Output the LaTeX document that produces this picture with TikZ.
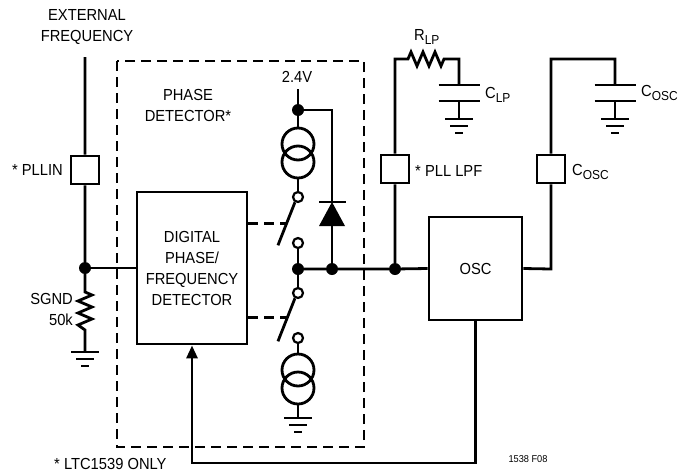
\documentclass[tikz,border=0pt]{standalone}
\usepackage{fontspec}
\setmainfont{Liberation Sans}[FakeStretch=0.92]
\usetikzlibrary{arrows.meta}
\newcommand{\lbl}{\fontsize{16}{21}\selectfont}
\newcommand{\subs}[1]{\raisebox{-0.5ex}{\fontsize{13}{13}\selectfont #1}}
\tikzset{
  wire/.style={line width=2.8pt},
  ctrl/.style={line width=2.8pt,dash pattern=on 10pt off 6pt},
  blk/.style={draw,line width=2.8pt,fill=white,inner sep=0pt,font=\lbl,align=center},
  pin/.style={blk,minimum width=28pt,minimum height=28pt},
  dot/.style={circle,fill,inner sep=0pt,minimum size=12pt},
  term/.style={circle,draw,line width=2.2pt,fill=white,inner sep=0pt,minimum size=10pt},
  txt/.style={font=\lbl,inner sep=0pt,align=center},
  ground/.pic={\draw[wire] (-14,0) -- (14,0) (-9,7) -- (9,7) (-4,14) -- (4,14);},
  isrc/.pic={\draw[wire] (0,-9) circle (16) (0,9) circle (16);
    \coordinate (-top) at (0,-25); \coordinate (-bot) at (0,25);},
  cap/.pic={\draw[wire] (-20.5,0) -- (20.5,0) (-20.5,16) -- (20.5,16);
    \coordinate (-top) at (0,0); \coordinate (-bot) at (0,16);}
}
\begin{document}
\begin{tikzpicture}[x=1pt,y=-1pt,line cap=butt,line join=miter]
  \useasboundingbox (0,0) rectangle (679,474);
  % input side
  \node[txt] (ext) at (87,27) {EXTERNAL\\FREQUENCY};
  \coordinate (extin) at (85,57);
  \node[pin] (pllin) at (85,170) {};
  \node[txt,anchor=east] at (63,170) {* PLLIN};
  \node[dot] (jin) at (85,268) {};
  \coordinate (rs1) at (85,292);
  \coordinate (rs2) at (85,330);
  \pic (g1) at (85,352) {ground};
  \node[txt,anchor=east,align=right] at (73,309) {SGND\\50k};
  \draw[wire] (extin) -- (pllin) -- (jin) -- (rs1)
    -- ++(7,3) -- ++(-14,6) -- ++(14,6) -- ++(-14,6) -- ++(14,6) -- ++(-14,6) -- (rs2)
    -- (85,352);

  % phase detector
  \draw[ctrl] (117,61) rectangle (364,447);
  \node[txt] at (188,105) {PHASE\\DETECTOR*};
  \node[blk,minimum width=110pt,minimum height=152pt] (pfd) at (192,268)
    {DIGITAL\\PHASE/\\FREQUENCY\\DETECTOR};
  \draw[wire] (jin) -- (jin -| pfd.west);

  % charge pump
  \node[txt] (vref) at (297,77) {2.4V};
  \coordinate (vtop) at (298,89);
  \node[dot] (jtop) at (298,110) {};
  \pic (cs1) at (298,153) {isrc};
  \node[term] (s1a) at (298,197) {};
  \node[term] (s1b) at (298,243) {};
  \node[dot] (jsw) at (298,269) {};
  \node[term] (s2a) at (298,293) {};
  \node[term] (s2b) at (298,338) {};
  \pic (cs2) at (298,379) {isrc};
  \pic (g2) at (298,418) {ground};
  \draw[wire] (vtop) -- (jtop) -- (cs1-top) (cs1-bot) -- (s1a);
  \draw[wire] (s1b) -- (jsw) -- (s2a);
  \draw[wire] (s2b) -- (cs2-top) (cs2-bot) -- (298,418);
  \draw[wire] (s1a.240) -- ++(-17,43) coordinate[pos=.5] (b1);
  \draw[wire] (s2a.240) -- ++(-17,43) coordinate[pos=.45] (b2);
  \draw[ctrl] (pfd.east |- b1) -- (b1);
  \draw[ctrl] (pfd.east |- b2) -- (b2);

  % diode
  \coordinate (dk) at (332,202);
  \coordinate (da) at (332,226);
  \node[dot] (jd) at (332,269) {};
  \draw[wire] (jtop) -| (dk);
  \draw[wire] (319,202) -- (346,202);
  \fill (dk) -- (319,226) -- (345,226) -- cycle;
  \draw[wire] (da) -- (jd);

  % loop filter
  \node[dot] (jlpf) at (395,269) {};
  \node[pin] (lpf) at (395,169) {};
  \node[txt,anchor=west] at (415,171) {* PLL LPF};
  \coordinate (lpftop) at (395,59);
  \pic (clp) at (459,85) {cap};
  \pic (g3) at (459,119) {ground};
  \node[txt,anchor=west] at (414,37) {R\subs{LP}};
  \node[txt,anchor=west] at (485,95) {C\subs{LP}};
  \draw[wire] (jlpf) -- (lpf) -- (lpftop) -- (408,59)
    -- ++(3,-7) -- ++(6,14) -- ++(6,-14) -- ++(6,14) -- ++(6,-14) -- ++(6,14) -- ++(3,-7)
    -| (clp-top);
  \draw[wire] (clp-bot) -- (459,119);

  % oscillator
  \node[blk,minimum width=93pt,minimum height=103pt] (osc) at (475.5,268.5) {OSC};
  \draw[wire] (jsw) -- (jd) -- (jlpf) -- (osc.west);
  \node[pin] (cpin) at (551,169) {};
  \node[txt,anchor=west] at (572,172) {C\subs{OSC}};
  \coordinate (coscr) at (551,269);
  \pic (cosc) at (615,85) {cap};
  \pic (g4) at (615,119) {ground};
  \node[txt,anchor=west] at (641,93) {C\subs{OSC}};
  \draw[wire] (osc.east) -- (coscr) -- (cpin) -- (551,59) -| (cosc-top);
  \draw[wire] (cosc-bot) -- (615,119);

  % feedback
  \coordinate (fb) at (192,463);
  \draw[wire,-{Triangle[length=13pt,width=11pt]}] (osc.south) |- (fb) -- (pfd.south);

  \node[txt,anchor=west] at (54,464) {* LTC1539 ONLY};
  \node[font=\fontsize{10}{10}\selectfont,inner sep=0pt] at (528,459) {1538 F08};
\end{tikzpicture}
\end{document}
